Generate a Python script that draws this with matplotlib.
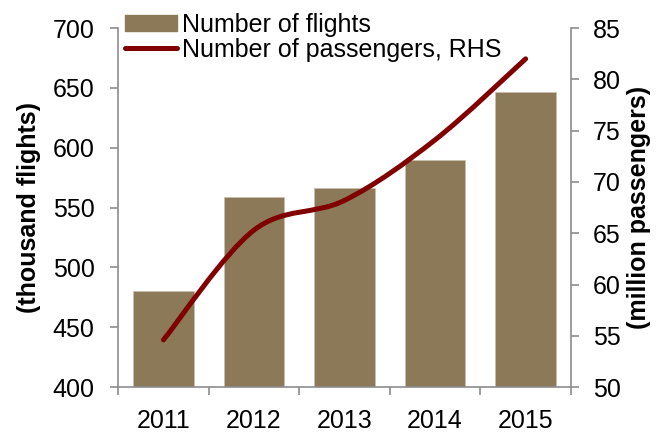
import matplotlib
matplotlib.use('Agg')
from matplotlib import pyplot as plt
from matplotlib.path import Path
from matplotlib.patches import PathPatch
from matplotlib.lines import Line2D
import numpy as np

plt.rcParams['font.family'] = ['Liberation Sans', 'DejaVu Sans']

years = ['2011', '2012', '2013', '2014', '2015']
flights = [480, 559, 566, 590, 647]          # thousand flights
passengers = [54.6, 65.3, 68.2, 74.1, 82.0]  # million passengers

bar_color = '#8B7957'
line_color = '#800000'
axis_color = '#8c8c8c'
fs = 18

fig = plt.figure(figsize=(6.6, 4.32), dpi=100)
ax = fig.add_axes([0.179, 0.104, 0.686, 0.831])
ax2 = ax.twinx()

x = np.arange(len(years))
ax.bar(x, flights, width=0.667, color=bar_color, edgecolor='#c8bfae', linewidth=0.6, zorder=2)

ax.set_xlim(-0.5, 4.5)
ax.set_ylim(400, 700)
ax.set_yticks(range(400, 701, 50))
ax2.set_ylim(50, 85)
ax2.set_yticks(range(50, 86, 5))

# smoothed passenger line as cubic bezier segments
pts = np.column_stack([x, passengers]).astype(float)
verts = [pts[0]]
codes = [Path.MOVETO]
n = len(pts)
for i in range(n - 1):
    p_prev = pts[i - 1] if i > 0 else pts[i]
    p_next2 = pts[i + 2] if i + 2 < n else pts[i + 1]
    c1 = pts[i] + (pts[i + 1] - p_prev) / 6.0
    c2 = pts[i + 1] - (p_next2 - pts[i]) / 6.0
    verts += [c1, c2, pts[i + 1]]
    codes += [Path.CURVE4, Path.CURVE4, Path.CURVE4]
curve = PathPatch(Path(verts, codes), facecolor='none', edgecolor=line_color,
                  linewidth=3.6, capstyle='round', joinstyle='round', zorder=3)
ax2.add_patch(curve)

# ticks between the category bars
ax.set_xticks(x)
ax.set_xticklabels(years)
ax.set_xticks(np.arange(-0.5, 5.0, 1.0), minor=True)
ax.tick_params(axis='x', which='major', length=0, pad=15.5, labelsize=fs)
ax.tick_params(axis='x', which='minor', length=6, direction='out', color=axis_color, width=1.2)
ax.tick_params(axis='y', length=6, direction='out', color=axis_color, width=1.2, labelsize=fs, pad=11)
ax2.tick_params(axis='y', length=6, direction='out', color=axis_color, width=1.2, labelsize=fs, pad=10)

for a in (ax, ax2):
    a.spines['top'].set_visible(False)
    for s in ('left', 'right', 'bottom'):
        a.spines[s].set_color(axis_color)
        a.spines[s].set_linewidth(1.2)
ax2.spines['left'].set_visible(False)
ax2.spines['bottom'].set_visible(False)
ax.spines['right'].set_visible(False)

ax.set_ylabel('(thousand flights)', fontsize=fs, fontweight='bold', labelpad=8)
ax2.set_ylabel('(million passengers)', fontsize=fs, fontweight='bold', labelpad=4)

handles = [plt.Rectangle((0, 0), 1, 1, color=bar_color),
           Line2D([0], [0], color=line_color, linewidth=3.6, solid_capstyle='round')]
fig.legend(handles, ['Number of flights', 'Number of passengers, RHS'],
           loc='upper left', bbox_to_anchor=(0.178, 0.988), frameon=False,
           fontsize=fs, handlelength=2.1, handleheight=0.6, handletextpad=0.2,
           labelspacing=0.04, borderaxespad=0.0, borderpad=0.3)

plt.savefig('out.png', dpi=100)
